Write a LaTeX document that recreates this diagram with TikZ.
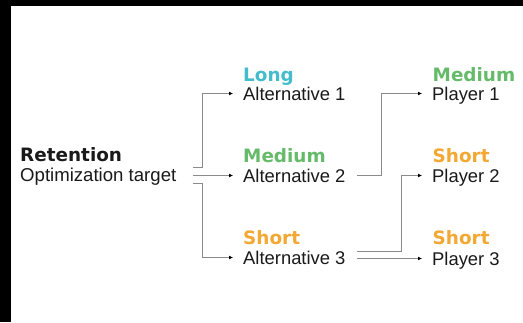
\documentclass[tikz,border=0pt]{standalone}
\usepackage{fontspec}
\setmainfont{Liberation Sans}
\newfontfamily\labf{DejaVu Sans}
\usetikzlibrary{arrows.meta}
\definecolor{cLong}{HTML}{45BCCB}
\definecolor{cMed}{HTML}{66BB6A}
\definecolor{cShort}{HTML}{F2A833}
\definecolor{txt}{HTML}{1A1A1A}
\definecolor{ln}{HTML}{8A8A8A}
\tikzset{
  item/.style={anchor=west, inner xsep=10pt, inner ysep=0pt, text height=13pt, text depth=0pt,
    font=\fontsize{18.4}{20}\selectfont, text=txt},
  tag/.style={anchor=base west, inner sep=0pt, font=\labf\bfseries\fontsize{18.4}{20}\selectfont},
  conn/.style={draw=ln, line width=1pt, -{Latex[length=4pt,width=4pt,black]}},
  plain/.style={draw=ln, line width=1pt}
}
\begin{document}
\begin{tikzpicture}[x=1pt,y=-1pt]
\fill[white] (0,0) rectangle (523,322);
\useasboundingbox (0,0) rectangle (523,322);
\fill[black] (0,0) rectangle (523,6);
\fill[black] (0,0) rectangle (11,322);

% source
\node[tag, text=txt] (ret) at (20,161) {Retention};
\node[anchor=base west, inner sep=0pt, font=\fontsize{18.6}{20}\selectfont, text=txt] (tgt) at (20,181.5) {Optimization target};

% alternatives
\node[item] (a1) at (233,93.5) {Alternative 1};
\node[item] (a2) at (233,175.5) {Alternative 2};
\node[item] (a3) at (233,257.5) {Alternative 3};
\node[tag, text=cLong] (l1) at (243,81) {Long};
\node[tag, text=cMed] (l2) at (243,162.5) {Medium};
\node[tag, text=cShort] (l3) at (243,244) {Short};

% players
\node[item] (p1) at (422,93.5) {Player 1};
\node[item] (p2) at (422,175.5) {Player 2};
\node[item] (p3) at (422,258.5) {Player 3};
\node[tag, text=cMed] (m1) at (432.5,81.5) {Medium};
\node[tag, text=cShort] (m2) at (432.5,162.5) {Short};
\node[tag, text=cShort] (m3) at (432.5,244) {Short};

% connector start points
\coordinate (s1) at (193,167);
\coordinate (s2) at (193,175.5);
\coordinate (s3) at (193,183.5);
\coordinate (e2) at (357,175.5);
\coordinate (e3a) at (357,251);
\coordinate (e3b) at (357,258.5);

\draw[conn] (s1) -- ++(9,0) |- (a1.west);
\draw[conn] (s2) -- (a2.west);
\draw[conn] (s3) -- ++(9,0) |- (a3.west);
\draw[conn] (e2) -- ++(24,0) |- (p1.west);
\draw[conn] (e3a) -- ++(44,0) |- (p2.west);
\draw[conn] (e3b) -- (p3.west);
\end{tikzpicture}
\end{document}
